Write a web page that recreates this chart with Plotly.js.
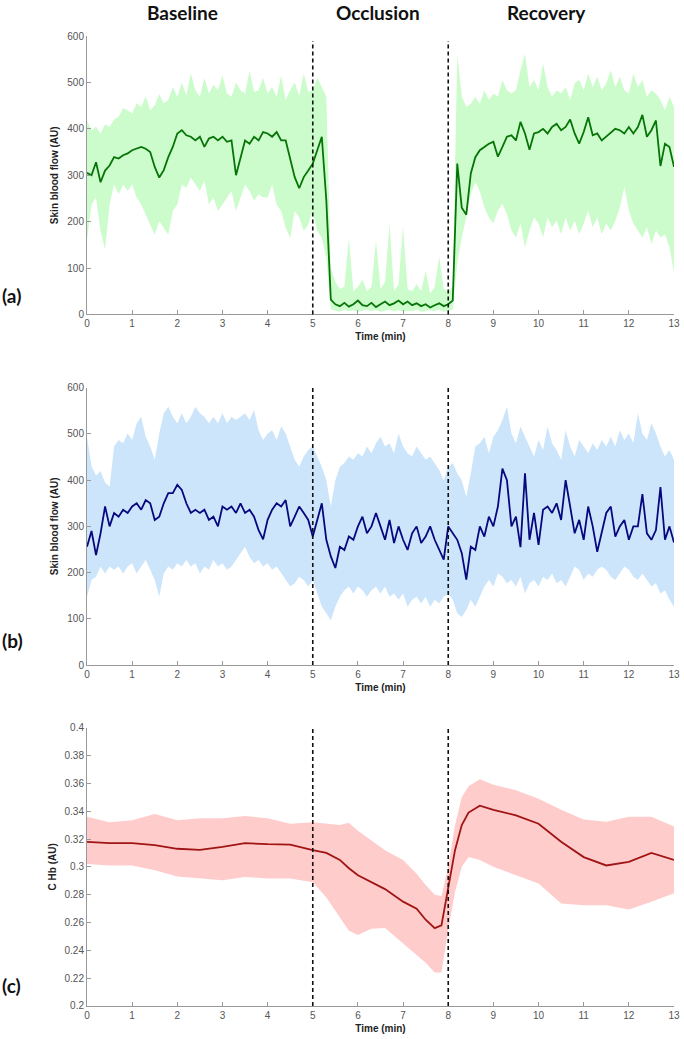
<!DOCTYPE html>
<html><head><meta charset="utf-8">
<script src="https://cdn.plot.ly/plotly-3.0.1.min.js"></script>
<style>html,body{margin:0;padding:0;background:#fff}#chart{width:684px;height:1039px}</style>
</head><body><div id="chart"></div>
<script>
// time grid (min) for panels (a) and (b)
const timeAB = [0,0.1,0.2,0.3,0.4,0.5,0.6,0.7,0.8,0.9,1,1.1,1.2,1.3,1.4,1.5,1.6,1.7,1.8,1.9,2,2.1,2.2,2.3,2.4,2.5,2.6,2.7,2.8,2.9,3,3.1,3.2,3.3,3.4,3.5,3.6,3.7,3.8,3.9,4,4.1,4.2,4.3,4.4,4.5,4.6,4.7,4.8,4.9,5,5.1,5.2,5.3,5.4,5.5,5.6,5.7,5.8,5.9,6,6.1,6.2,6.3,6.4,6.5,6.6,6.7,6.8,6.9,7,7.1,7.2,7.3,7.4,7.5,7.6,7.7,7.8,7.9,8,8.1,8.2,8.3,8.4,8.5,8.6,8.7,8.8,8.9,9,9.1,9.2,9.3,9.4,9.5,9.6,9.7,9.8,9.9,10,10.1,10.2,10.3,10.4,10.5,10.6,10.7,10.8,10.9,11,11.1,11.2,11.3,11.4,11.5,11.6,11.7,11.8,11.9,12,12.1,12.2,12.3,12.4,12.5,12.6,12.7,12.8,12.9,13];

// panel (a) skin blood flow
const flowA_mean = [305,300,328,285,310,321,339,336,343,347,354,357,361,357,350,318,295,311,339,361,390,397,386,383,375,383,361,379,383,375,383,372,375,300,339,375,368,383,375,393,390,383,393,375,375,332,296,272,296,310,325,354,383,246,32,22,18,25,17,22,30,20,18,25,16,22,28,20,24,30,22,28,20,24,18,22,15,20,24,18,22,30,325,230,215,304,339,354,361,368,372,340,361,383,386,375,415,390,355,390,393,400,390,404,411,397,404,420,390,368,393,425,386,390,375,383,390,400,397,390,404,390,404,430,383,397,418,320,368,361,318];
const flowA_upper = [418,397,405,390,410,404,420,426,445,440,433,455,447,470,440,451,475,455,462,490,469,500,472,520,483,469,510,476,495,483,515,476,469,500,483,476,525,480,483,510,476,490,469,515,462,483,500,470,520,480,483,510,490,469,100,70,55,60,165,50,60,75,50,60,160,55,70,195,50,65,190,55,50,65,50,95,45,60,125,55,50,60,560,470,447,454,469,454,483,462,476,469,505,483,476,483,526,562,490,505,483,541,490,469,483,476,490,462,498,505,483,519,490,512,483,498,526,490,512,483,476,519,490,505,469,483,476,462,440,469,447];
const flowA_lower = [160,237,252,180,140,237,280,259,280,266,280,252,237,216,194,172,201,187,172,223,237,280,273,295,280,266,288,237,252,223,237,252,266,223,252,280,266,245,259,252,252,280,237,223,187,165,223,209,180,194,223,180,165,122,12,8,6,10,7,9,6,8,10,7,9,6,8,10,7,9,6,8,7,10,6,8,9,7,10,6,8,10,110,166,209,260,285,265,231,209,196,224,238,216,181,166,196,145,181,209,196,166,209,188,202,173,209,181,202,173,196,224,188,209,173,196,181,202,230,275,224,196,181,166,188,152,181,166,173,145,90];

// panel (b) skin blood flow
const flowB_mean = [256,290,238,285,343,300,329,321,336,329,343,350,336,357,350,314,321,350,372,372,390,379,350,329,336,329,336,314,321,300,343,336,343,329,350,329,336,321,292,272,314,336,350,343,357,300,321,343,329,314,278,314,350,271,235,210,256,249,278,271,300,321,285,300,329,300,271,314,264,300,271,249,285,300,264,278,300,271,249,228,300,285,271,242,185,256,249,300,278,321,300,343,425,400,300,321,255,415,271,329,260,336,343,329,350,314,400,343,285,314,271,343,300,245,285,329,343,278,300,314,271,300,300,370,285,271,292,385,271,300,265];
const flowB_upper = [494,430,410,420,395,386,473,487,480,501,487,523,537,494,473,444,501,545,559,537,523,545,523,537,559,545,537,523,537,523,545,523,537,530,537,545,530,552,508,487,501,508,487,516,501,473,444,429,451,465,473,451,429,400,343,400,429,437,451,444,458,451,473,458,480,494,473,480,458,501,473,458,451,473,458,444,451,437,422,400,429,437,415,400,364,415,473,480,494,458,494,508,530,559,501,480,516,494,473,451,487,465,516,480,465,444,508,473,451,487,473,458,480,465,487,473,494,473,508,487,501,480,545,501,487,523,501,473,451,465,444];
const flowB_lower = [148,184,191,213,198,213,206,213,198,213,220,198,213,227,206,184,148,198,213,206,220,213,227,213,220,198,213,206,227,213,220,206,213,227,242,256,234,220,227,213,220,206,213,198,184,170,177,191,184,170,184,155,126,112,97,126,148,162,170,155,170,162,148,162,170,155,170,148,155,141,155,126,141,148,133,148,126,141,133,148,155,141,112,104,119,141,126,148,170,184,170,198,191,177,184,170,191,155,177,184,170,191,184,198,177,184,170,191,213,206,184,198,191,206,213,206,191,184,198,213,206,191,184,198,184,170,177,155,162,141,126];

// panel (c) C Hb
const timeC = [0,0.5,1,1.5,2,2.5,3,3.5,4,4.5,5,5.3,5.6,5.8,6,6.3,6.6,7,7.3,7.5,7.7,7.85,8,8.15,8.3,8.45,8.7,9,9.5,10,10.5,11,11.5,12,12.5,13];
const hbC_mean = [0.318,0.317,0.317,0.3156,0.313,0.3122,0.3144,0.317,0.3163,0.316,0.312,0.310,0.305,0.299,0.294,0.289,0.284,0.275,0.270,0.262,0.256,0.258,0.2856,0.312,0.330,0.339,0.344,0.341,0.337,0.331,0.318,0.307,0.301,0.3036,0.310,0.305];
const hbC_upper = [0.336,0.332,0.3335,0.338,0.3335,0.335,0.335,0.3365,0.335,0.331,0.332,0.331,0.330,0.3317,0.326,0.319,0.312,0.305,0.295,0.287,0.280,0.279,0.300,0.330,0.350,0.358,0.363,0.359,0.355,0.349,0.341,0.334,0.3324,0.336,0.336,0.329];
const hbC_lower = [0.302,0.301,0.301,0.2976,0.293,0.2916,0.2904,0.2928,0.2916,0.2916,0.289,0.278,0.264,0.254,0.251,0.2556,0.256,0.245,0.237,0.231,0.224,0.224,0.255,0.282,0.300,0.307,0.305,0.300,0.294,0.288,0.2736,0.2724,0.2724,0.2693,0.275,0.281];

const phaseMarks = [5, 8];
const phaseNames = ['Baseline', 'Occlusion', 'Recovery'];
const panelLabels = ['(a)', '(b)', '(c)'];

function band(x, up, lo, xa, ya, fill) {
  return [
    {x: x, y: up, xaxis: xa, yaxis: ya, type: 'scatter', mode: 'lines', line: {width: 0}, hoverinfo: 'skip', showlegend: false},
    {x: x, y: lo, xaxis: xa, yaxis: ya, type: 'scatter', mode: 'lines', line: {width: 0}, fill: 'tonexty', fillcolor: fill, hoverinfo: 'skip', showlegend: false}
  ];
}
function meanLine(x, y, xa, ya, color) {
  return {x: x, y: y, xaxis: xa, yaxis: ya, type: 'scatter', mode: 'lines', line: {color: color, width: 1.8}, showlegend: false};
}

const data = [].concat(
  band(timeAB, flowA_upper, flowA_lower, 'x', 'y', 'rgb(204,252,204)'),
  [meanLine(timeAB, flowA_mean, 'x', 'y', '#067406')],
  band(timeAB, flowB_upper, flowB_lower, 'x2', 'y2', 'rgb(204,229,251)'),
  [meanLine(timeAB, flowB_mean, 'x2', 'y2', '#08087e')],
  band(timeC, hbC_upper, hbC_lower, 'x3', 'y3', 'rgb(255,204,204)'),
  [meanLine(timeC, hbC_mean, 'x3', 'y3', '#a01414')]
);

const tickFont = {family: 'Liberation Sans, Arial, sans-serif', size: 10, color: '#555'};
const titleFont = {family: 'Liberation Sans, Arial, sans-serif', size: 10, color: '#222', weight: 'bold'};
function xAx(anchor) {
  return {anchor: anchor, domain: [0, 1], range: [0, 13], dtick: 1, tick0: 0, ticks: 'inside', ticklen: 4,
    tickcolor: '#999', showline: true, linecolor: '#999', linewidth: 1, showgrid: false, zeroline: false,
    tickfont: tickFont, title: {text: 'Time (min)', font: titleFont, standoff: 4}};
}
function yAx(anchor, dom, rng, dt, txt) {
  return {anchor: anchor, domain: dom, range: rng, dtick: dt, ticks: 'inside', ticklen: 4,
    tickcolor: '#999', showline: true, linecolor: '#999', linewidth: 1, showgrid: false, zeroline: false,
    tickfont: tickFont, title: {text: txt, font: titleFont, standoff: 6}};
}

const shapes = [];
[['x', 'y', 0.982], ['x2', 'y2', 1], ['x3', 'y3', 1]].forEach(function (p) {
  phaseMarks.forEach(function (m) {
    shapes.push({type: 'line', xref: p[0], yref: p[1] + ' domain', x0: m, x1: m, y0: 0, y1: p[2],
      line: {color: '#111', width: 1.6, dash: '4px,3px'}});
  });
});

const headFont = {family: 'Lato, sans-serif', size: 19, color: '#111', weight: 'bold'};
const labFont = {family: 'Lato, sans-serif', size: 19, color: '#111', weight: 'bold'};
const annotations = [
  {text: phaseNames[0], x: 0.1635, y: 1.0247},
  {text: phaseNames[1], x: 0.4957, y: 1.0247},
  {text: phaseNames[2], x: 0.782, y: 1.0247}
].map(function (a) { return Object.assign({xref: 'paper', yref: 'paper', xanchor: 'center', yanchor: 'middle', showarrow: false, font: headFont}, a); })
.concat([
  {text: panelLabels[0], x: -0.148, y: 0.732},
  {text: panelLabels[1], x: -0.148, y: 0.377},
  {text: panelLabels[2], x: -0.148, y: 0.0216}
].map(function (a) { return Object.assign({xref: 'paper', yref: 'paper', xanchor: 'left', yanchor: 'middle', showarrow: false, font: labFont}, a); }));

const layout = {
  width: 684, height: 1039,
  margin: {l: 87, r: 10, t: 36, b: 33},
  paper_bgcolor: '#fff', plot_bgcolor: '#fff',
  showlegend: false,
  xaxis: xAx('y'), xaxis2: xAx('y2'), xaxis3: xAx('y3'),
  yaxis: yAx('x', [0.7129, 1], [0, 600], 100, 'Skin blood flow (AU)'),
  yaxis2: yAx('x2', [0.3515, 0.6374], [0, 600], 100, 'Skin blood flow (AU)'),
  yaxis3: yAx('x3', [0, 0.2869], [0.2, 0.4], 0.02, 'C Hb (AU)'),
  shapes: shapes,
  annotations: annotations
};

Plotly.newPlot('chart', data, layout, {displayModeBar: false, staticPlot: true});
</script></body></html>
